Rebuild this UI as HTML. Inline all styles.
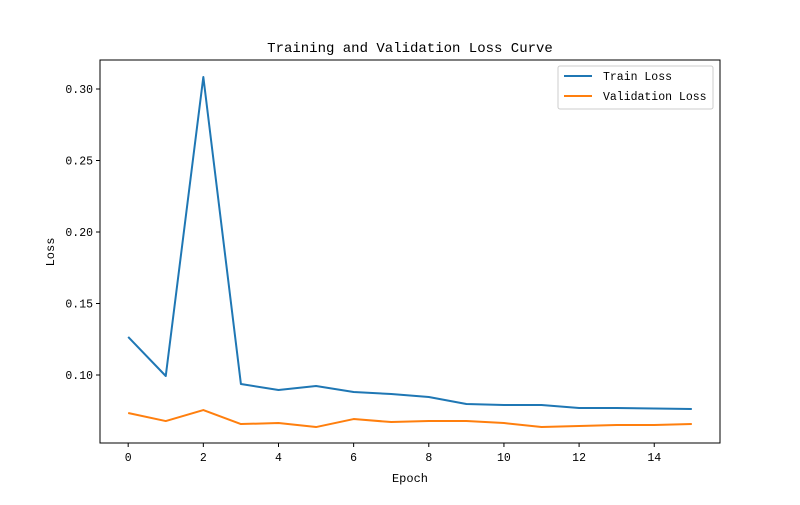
<!DOCTYPE html>
<html><head><meta charset="utf-8"><style>
body{margin:0;background:#fff}
svg text{font-family:"Liberation Mono","WenQuanYi Zen Hei",monospace;fill:#000}
</style></head><body>
<svg width="800" height="500" xmlns="http://www.w3.org/2000/svg">
<rect width="800" height="500" fill="#fff"/>
<text x="410" y="52" font-size="14" text-anchor="middle">Training and Validation Loss Curve</text>
<g id="axes"></g>
<rect x="100" y="60" width="620" height="383" fill="none" stroke="#000" stroke-width="1"/>
<text x="410" y="482" font-size="12" text-anchor="middle">Epoch</text>
<text x="0" y="0" font-size="12" text-anchor="middle" transform="translate(54,252) rotate(-90)">Loss</text>
<g>
<rect x="558" y="66" width="155" height="43" fill="#fff" stroke="#ccc" rx="2"/>
<line x1="564" y1="76" x2="592" y2="76" stroke="#1f77b4" stroke-width="2"/>
<text x="603" y="80" font-size="11.5">Train Loss</text>
<line x1="564" y1="96" x2="592" y2="96" stroke="#ff7f0e" stroke-width="2"/>
<text x="603" y="100" font-size="11.5">Validation Loss</text>
</g>
</svg>
<script>
const epochs=[0,1,2,3,4,5,6,7,8,9,10,11,12,13,14,15];
const trainLoss=[0.1266,0.0993,0.3084,0.0937,0.0895,0.0923,0.0881,0.0867,0.0846,0.0797,0.0790,0.0790,0.0769,0.0769,0.0766,0.0762];
const valLoss=[0.0734,0.0678,0.0755,0.0657,0.0664,0.0636,0.0692,0.0671,0.0678,0.0678,0.0664,0.0636,0.0643,0.0650,0.0650,0.0657];
const xTicks=[0,2,4,6,8,10,12,14];
const yTicks=[0.10,0.15,0.20,0.25,0.30];
const NS="http://www.w3.org/2000/svg";
const L=100,R=720,T=60,B=443;
const x=v=>L+(v+0.75)*(R-L)/16.5;
const y=v=>375-(v-0.10)*1430;
const g=document.getElementById('axes');
function mk(t,a){const e=document.createElementNS(NS,t);for(const k in a)e.setAttribute(k,a[k]);g.appendChild(e);return e;}
xTicks.forEach(v=>{
  const l=mk('line',{x1:x(v),x2:x(v),y1:B,y2:B+4,stroke:'#000'});
  
  
  const t=mk('text',{x:x(v),y:B+18,'font-size':11.5,'text-anchor':'middle'});t.textContent=v;
  
  
});
yTicks.forEach(v=>{
  const l=mk('line',{x1:L-4,x2:L,y1:y(v),y2:y(v),stroke:'#000'});
  
  
  const t=mk('text',{x:L-7,y:y(v)+4,'font-size':11.5,'text-anchor':'end'});t.textContent=v.toFixed(2);
  
  
});
function line(vals,color,name){
  const p=mk('polyline',{points:vals.map((v,i)=>x(epochs[i])+','+y(v)).join(' '),fill:'none',stroke:color,'stroke-width':2,'stroke-linejoin':'round'});
  
  
}
line(trainLoss,'#1f77b4','train-loss-line');
line(valLoss,'#ff7f0e','validation-loss-line');
</script>
</body></html>
